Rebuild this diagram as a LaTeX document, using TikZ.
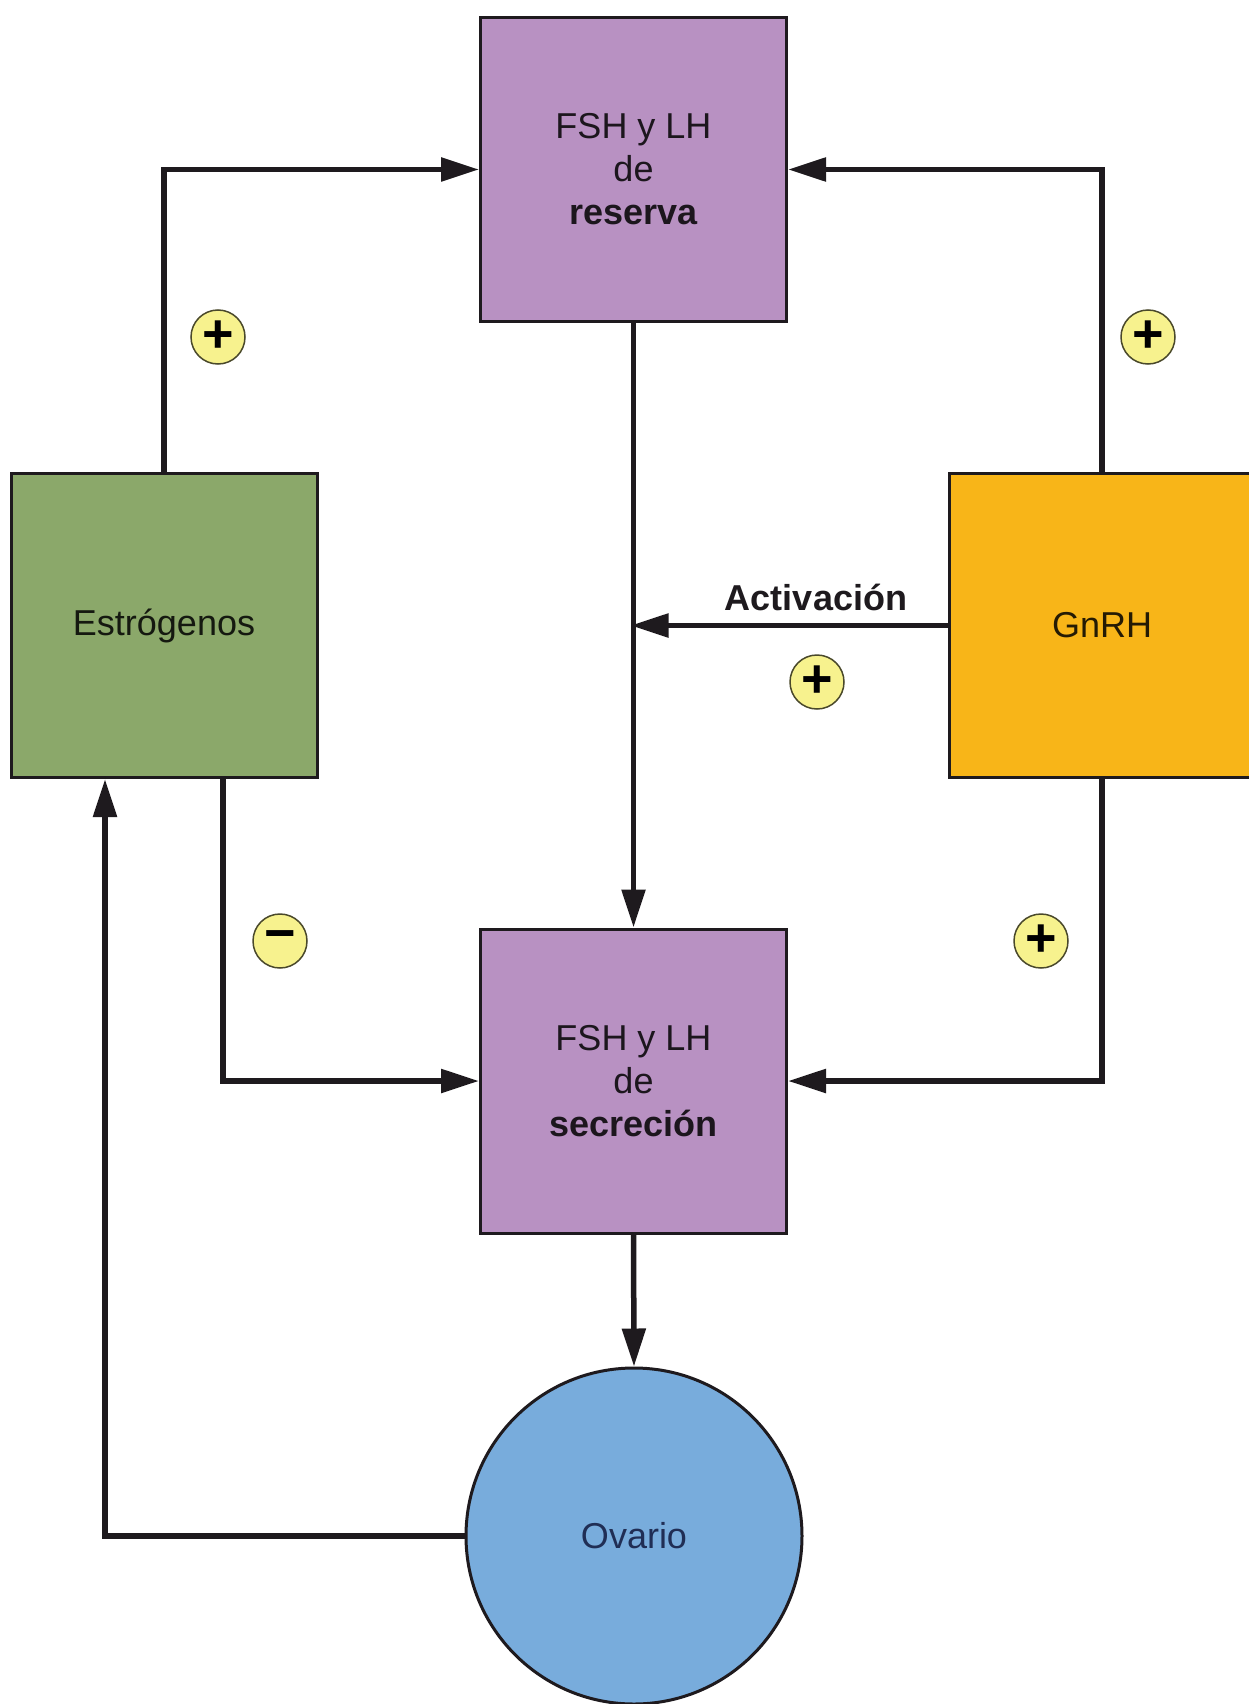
\documentclass[tikz,border=0pt]{standalone}
\usepackage{fontspec}
\setmainfont{Liberation Sans}
\usetikzlibrary{arrows.meta,calc}
\definecolor{purp}{HTML}{B891C2}
\definecolor{grn}{HTML}{8BA86A}
\definecolor{orng}{HTML}{F8B518}
\definecolor{blu}{HTML}{78ACDC}
\definecolor{sgn}{HTML}{F7F28E}
\definecolor{edge}{HTML}{1E1A1E}
\begin{document}
\begin{tikzpicture}[x=1pt,y=-1pt,
  box/.style={draw=edge,line width=3pt,minimum width=306pt,minimum height=304pt,inner sep=0pt,align=center,
    font=\fontsize{36}{43}\selectfont},
  arr/.style={line width=5.5pt,draw=edge,-{Triangle[length=38pt,width=23pt]}},
  sign/.style={circle,draw=black!70!sgn,line width=1.5pt,fill=sgn,minimum size=54pt,inner sep=0pt,
    font=\bfseries\fontsize{54}{54}\selectfont}]
\useasboundingbox[fill=white] (0,0) rectangle (1248,1704);
\node[box,fill=purp,text=black!85!purp] (top) at (633.5,169.5) {FSH y LH\\de\\\textbf{reserva}};
\node[box,fill=purp,text=black!85!purp] (bot) at (633.5,1081) {FSH y LH\\de\\\textbf{secreción}};
\node[box,fill=grn,text=black!85!grn] (estr) at (164,625.5) {Estrógenos};
\node[box,fill=orng,text=black!85!orng] (gnrh) at (1102,625.5) {GnRH};
\node[circle,draw=edge,line width=3pt,fill=blu,minimum size=336pt,inner sep=0pt,
  text=black!70!blu!90!blue,font=\fontsize{36}{43}\selectfont] (ov) at (634,1536) {Ovario};
\coordinate (act) at (top.south |- gnrh.west);
\draw[arr] (estr.north) |- (top.west);
\draw[arr] (gnrh.north) |- (top.east);
\draw[arr] (top.south) -- (bot.north);
\draw[arr,shorten >=-3pt] (gnrh.west) -- (act);
\draw[arr] ([xshift=59pt]estr.south) |- (bot.west);
\draw[arr] (gnrh.south) |- (bot.east);
\draw[arr] (bot.south) -- (ov.north);
\draw[arr] (ov.west) -| ([xshift=-59pt]estr.south);
\node[font=\bfseries\fontsize{36}{43}\selectfont,text=edge] (actl) at (816,597) {Activación};
\node[sign] (s1) at (218,337) {+};
\node[sign] (s2) at (1148,337) {+};
\node[sign] (s3) at (817,682) {+};
\node[sign] (s4) at (280,941) {−};
\node[sign] (s5) at (1041,941) {+};
\end{tikzpicture}
\end{document}
